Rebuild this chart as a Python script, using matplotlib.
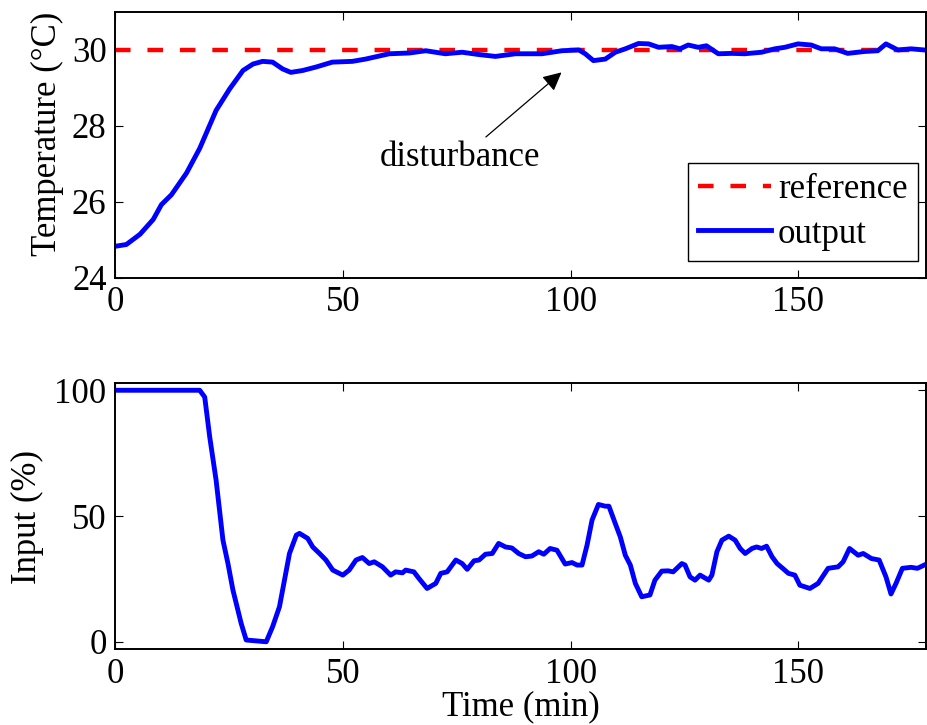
import numpy as np
import matplotlib
matplotlib.use("Agg")
import matplotlib.pyplot as plt

# temperature output
t_temp = [0.4, 2.5, 5.5, 8.4, 10.2, 12.4, 15.7, 18.6, 22.2, 25.2, 28.1, 30.3, 32.4,
          34.6, 36.8, 38.6, 41.2, 44.1, 47.7, 52.1, 55.0, 60.2, 64.6, 68.2, 72.5,
          76.2, 79.8, 83.5, 87.9, 93.7, 98.1, 101.8, 103.2, 105.0, 107.6, 109.8,
          112.0, 114.9, 117.1, 119.3, 122.2, 124.0, 125.8, 128.0, 129.8, 132.4,
          135.4, 138.2, 141.9, 144.8, 147.0, 149.9, 152.8, 155.0, 157.9, 160.8,
          164.5, 167.4, 169.2, 171.8, 174.7, 177.6]
temp = [24.84, 24.88, 25.15, 25.54, 25.93, 26.19, 26.76, 27.41, 28.41, 28.98, 29.46,
        29.63, 29.70, 29.68, 29.50, 29.41, 29.46, 29.55, 29.68, 29.70, 29.76, 29.90,
        29.92, 29.98, 29.90, 29.94, 29.88, 29.83, 29.90, 29.90, 29.98, 30.00, 29.90,
        29.72, 29.76, 29.94, 30.03, 30.17, 30.16, 30.07, 30.09, 30.03, 30.13, 30.07,
        30.11, 29.90, 29.91, 29.90, 29.94, 30.03, 30.07, 30.16, 30.13, 30.03, 30.03,
        29.91, 29.96, 29.98, 30.16, 30.00, 30.03, 30.00]
setpoint = 30

# control input
t_in = [0.4, 18.6, 19.7, 20.8, 22.2, 23.7, 24.8, 25.9, 27.7, 28.8, 33.2, 34.6, 36.1,
        37.2, 38.3, 39.8, 40.5, 42.3, 43.4, 44.9, 46.3, 47.8, 50.0, 51.4, 52.9, 54.3,
        55.8, 56.9, 58.7, 60.5, 61.6, 63.1, 63.8, 65.6, 66.7, 68.5, 70.4, 71.5, 72.9,
        74.8, 76.2, 77.3, 78.8, 79.9, 81.3, 82.8, 84.2, 85.7, 87.1, 88.6, 90.1, 91.5,
        93.0, 94.1, 95.5, 97.0, 98.8, 100.3, 101.4, 102.5, 103.6, 104.7, 106.1, 107.6,
        108.4, 109.8, 110.9, 112.0, 113.1, 114.2, 115.6, 117.4, 118.5, 120.0, 121.4,
        122.5, 124.4, 125.1, 126.2, 127.3, 128.4, 130.3, 131.0, 132.1, 133.2, 134.7,
        136.1, 137.2, 138.3, 139.8, 140.8, 141.9, 143.0, 144.2, 145.3, 146.6, 147.8,
        149.2, 150.3, 152.5, 154.3, 156.5, 158.7, 159.8, 161.2, 163.1, 164.2, 166.0,
        167.7, 169.2, 170.3, 171.4, 172.8, 174.7, 176.1, 177.6]
u_in = [100, 100, 97.3, 81.4, 64.2, 40.4, 31.1, 20.5, 7.3, 0.7, 0, 6.0, 13.9, 24.5,
        35.1, 42.4, 43.1, 41.1, 37.7, 35.1, 32.5, 28.5, 26.5, 28.5, 32.5, 33.5, 31.1,
        31.8, 29.8, 26.5, 27.8, 27.4, 28.5, 27.8, 25.2, 21.2, 23.2, 27.2, 27.8, 32.5,
        31.1, 28.8, 32.2, 32.5, 34.8, 35.1, 39.1, 37.7, 37.3, 35.1, 33.8, 34.1, 35.8,
        34.8, 37.1, 36.4, 30.9, 31.5, 30.5, 30.5, 38.4, 48.4, 54.6, 53.9, 53.9, 47.0,
        41.7, 34.4, 30.5, 23.2, 17.9, 18.6, 24.5, 28.1, 28.2, 27.8, 31.1, 30.5, 25.8,
        24.5, 26.5, 24.5, 26.5, 35.8, 40.4, 42.0, 40.4, 37.1, 35.1, 37.1, 37.7, 37.1,
        38.0, 33.8, 31.1, 29.1, 27.2, 26.5, 22.5, 21.2, 23.2, 29.2, 29.8, 31.8, 37.1,
        34.4, 35.1, 33.1, 32.5, 25.8, 19.0, 23.2, 29.2, 29.6, 29.2, 30.5]

plt.rcParams['font.family'] = ['Liberation Serif', 'DejaVu Serif']
plt.rcParams['font.size'] = 25

fig = plt.figure(figsize=(9.27, 7.25), dpi=100)
ax1 = fig.add_axes([0.124, 0.6166, 0.875, 0.3669])
ax2 = fig.add_axes([0.124, 0.1044, 0.875, 0.3677])

for ax in (ax1, ax2):
    ax.tick_params(direction='in', top=True, right=True, length=6, width=0.8, pad=6)
    for sp in ax.spines.values():
        sp.set_linewidth(1.4)
    ax.set_xlim(0, 178)
    ax.set_xticks([0, 50, 100, 150])

ax1.plot([0, 178], [setpoint, setpoint], color='red', lw=3.2, dashes=(3.5, 3.8),
         label='reference')
ax1.plot(t_temp, temp, color='blue', lw=3.5, label='output')
ax1.set_ylim(24, 31)
ax1.set_yticks([24, 26, 28, 30])
ax1.set_ylabel('Temperature (°C)')
ax1.yaxis.set_label_coords(-0.063, 0.541)
leg = ax1.legend(loc='lower right', bbox_to_anchor=(0.99, 0.064), borderaxespad=0,
                 fancybox=False, edgecolor='black', framealpha=1, handlelength=2.1,
                 handletextpad=0.2, labelspacing=0.33, borderpad=0.3)
leg.get_frame().set_linewidth(1.0)

ax1.annotate('', xy=(98.0, 29.41), xytext=(81.4, 27.71),
             arrowprops=dict(arrowstyle='-|>', color='black', lw=0.9,
                             mutation_scale=28, shrinkA=0, shrinkB=0))
ax1.text(75.7, 26.95, 'disturbance', ha='center', va='baseline')

ax2.plot(t_in, u_in, color='blue', lw=3.5)
ax2.set_ylim(-3, 103)
ax2.set_yticks([0, 50, 100])
ax2.set_ylabel('Input (%)')
ax2.yaxis.set_label_coords(-0.088, 0.496)
ax2.set_xlabel('Time (min)', labelpad=0)

fig.savefig('out.png', dpi=100)
